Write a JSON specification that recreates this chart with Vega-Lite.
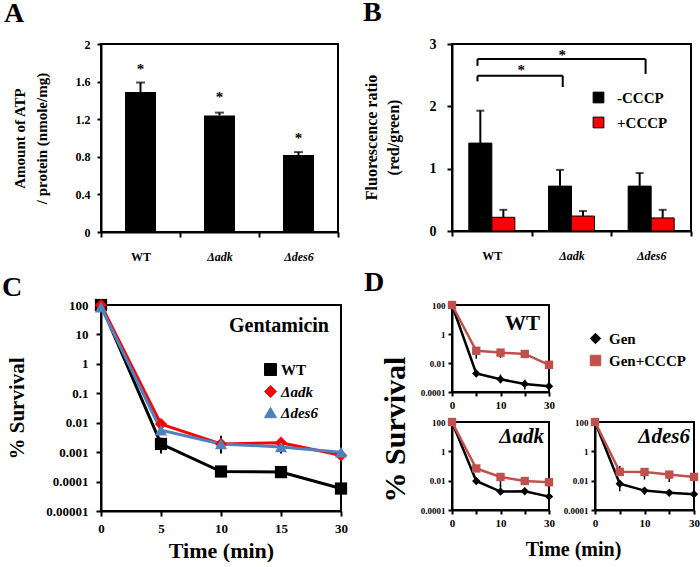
{
  "$schema": "https://vega.github.io/schema/vega-lite/v6.json",
  "padding": {"left": 1, "top": -2, "right": 0, "bottom": 0},
  "background": "white",
  "spacing": 12,
  "resolve": {"scale": {"color": "independent", "shape": "independent"}},
  "datasets": {
    "atp": [
      {"strain": "WT", "v": 1.49, "hi": 1.59, "star": 1.68},
      {"strain": "Δadk", "v": 1.24, "hi": 1.27, "star": 1.38},
      {"strain": "Δdes6", "v": 0.82, "hi": 0.85, "star": 0.95}
    ],
    "fl": [
      {"strain": "WT", "cond": "-CCCP", "v": 1.41, "hi": 1.93},
      {"strain": "WT", "cond": "+CCCP", "v": 0.22, "hi": 0.34},
      {"strain": "Δadk", "cond": "-CCCP", "v": 0.72, "hi": 0.98},
      {"strain": "Δadk", "cond": "+CCCP", "v": 0.24, "hi": 0.32},
      {"strain": "Δdes6", "cond": "-CCCP", "v": 0.72, "hi": 0.93},
      {"strain": "Δdes6", "cond": "+CCCP", "v": 0.21, "hi": 0.34}
    ],
    "brackets": [
      {"x": 0.32, "x2": 2.43, "y": 2.76, "y2": 2.76},
      {"x": 0.32, "x2": 0.32, "y": 2.76, "y2": 2.65},
      {"x": 2.43, "x2": 2.43, "y": 2.76, "y2": 2.52},
      {"x": 0.32, "x2": 1.39, "y": 2.49, "y2": 2.49},
      {"x": 0.32, "x2": 0.32, "y": 2.49, "y2": 2.4},
      {"x": 1.39, "x2": 1.39, "y": 2.49, "y2": 2.31}
    ],
    "bstars": [
      {"x": 1.385, "y": 2.74},
      {"x": 0.87, "y": 2.5}
    ],
    "gen": [
      {"strain": "WT", "t": 0, "v": 100, "lo": 100, "hi": 100},
      {"strain": "WT", "t": 5, "v": 0.0019, "lo": 0.0009, "hi": 0.0031},
      {"strain": "WT", "t": 10, "v": 0.00022, "lo": 0.00022, "hi": 0.00022},
      {"strain": "WT", "t": 15, "v": 0.00021, "lo": 0.00021, "hi": 0.00021},
      {"strain": "WT", "t": 30, "v": 0.000058, "lo": 0.000058, "hi": 0.00018},
      {"strain": "Δadk", "t": 0, "v": 100, "lo": 100, "hi": 100},
      {"strain": "Δadk", "t": 5, "v": 0.009, "lo": 0.009, "hi": 0.009},
      {"strain": "Δadk", "t": 10, "v": 0.0019, "lo": 0.0009, "hi": 0.0036},
      {"strain": "Δadk", "t": 15, "v": 0.0021, "lo": 0.0009, "hi": 0.0026},
      {"strain": "Δadk", "t": 30, "v": 0.00078, "lo": 0.00078, "hi": 0.0019},
      {"strain": "Δdes6", "t": 0, "v": 85, "lo": 85, "hi": 85},
      {"strain": "Δdes6", "t": 5, "v": 0.0056, "lo": 0.0056, "hi": 0.0056},
      {"strain": "Δdes6", "t": 10, "v": 0.0019, "lo": 0.0019, "hi": 0.0019},
      {"strain": "Δdes6", "t": 15, "v": 0.0015, "lo": 0.0015, "hi": 0.0015},
      {"strain": "Δdes6", "t": 30, "v": 0.001, "lo": 0.001, "hi": 0.0016}
    ],
    "clab": [{"label": "Gentamicin", "t": 30, "v": 12}],
    "d": [
      {"strain": "WT", "cond": "Gen", "t": 0, "v": 100, "lo": 100, "hi": 100},
      {"strain": "WT", "cond": "Gen", "t": 5, "v": 0.0019, "lo": 0.0012, "hi": 0.0032},
      {"strain": "WT", "cond": "Gen", "t": 10, "v": 0.00075, "lo": 0.0004, "hi": 0.0016},
      {"strain": "WT", "cond": "Gen", "t": 15, "v": 0.00036, "lo": 0.00015, "hi": 0.0007},
      {"strain": "WT", "cond": "Gen", "t": 30, "v": 0.00025, "lo": 0.0001, "hi": 0.0006},
      {"strain": "WT", "cond": "Gen+CCCP", "t": 0, "v": 100, "lo": 100, "hi": 100},
      {"strain": "WT", "cond": "Gen+CCCP", "t": 5, "v": 0.07, "lo": 0.02, "hi": 0.07},
      {"strain": "WT", "cond": "Gen+CCCP", "t": 10, "v": 0.052, "lo": 0.022, "hi": 0.09},
      {"strain": "WT", "cond": "Gen+CCCP", "t": 15, "v": 0.042, "lo": 0.042, "hi": 0.08},
      {"strain": "WT", "cond": "Gen+CCCP", "t": 30, "v": 0.0075, "lo": 0.0075, "hi": 0.0075},
      {"strain": "Δadk", "cond": "Gen", "t": 0, "v": 100, "lo": 100, "hi": 100},
      {"strain": "Δadk", "cond": "Gen", "t": 5, "v": 0.0095, "lo": 0.006, "hi": 0.014},
      {"strain": "Δadk", "cond": "Gen", "t": 10, "v": 0.0018, "lo": 0.0018, "hi": 0.005},
      {"strain": "Δadk", "cond": "Gen", "t": 15, "v": 0.0019, "lo": 0.0019, "hi": 0.0019},
      {"strain": "Δadk", "cond": "Gen", "t": 30, "v": 0.00082, "lo": 0.00082, "hi": 0.002},
      {"strain": "Δadk", "cond": "Gen+CCCP", "t": 0, "v": 100, "lo": 100, "hi": 100},
      {"strain": "Δadk", "cond": "Gen+CCCP", "t": 5, "v": 0.068, "lo": 0.068, "hi": 0.11},
      {"strain": "Δadk", "cond": "Gen+CCCP", "t": 10, "v": 0.018, "lo": 0.004, "hi": 0.03},
      {"strain": "Δadk", "cond": "Gen+CCCP", "t": 15, "v": 0.0095, "lo": 0.0095, "hi": 0.0095},
      {"strain": "Δadk", "cond": "Gen+CCCP", "t": 30, "v": 0.0078, "lo": 0.003, "hi": 0.0078},
      {"strain": "Δdes6", "cond": "Gen", "t": 0, "v": 100, "lo": 100, "hi": 100},
      {"strain": "Δdes6", "cond": "Gen", "t": 5, "v": 0.0062, "lo": 0.0019, "hi": 0.01},
      {"strain": "Δdes6", "cond": "Gen", "t": 10, "v": 0.0021, "lo": 0.0011, "hi": 0.003},
      {"strain": "Δdes6", "cond": "Gen", "t": 15, "v": 0.0015, "lo": 0.0015, "hi": 0.0015},
      {"strain": "Δdes6", "cond": "Gen", "t": 30, "v": 0.0012, "lo": 0.0001, "hi": 0.0012},
      {"strain": "Δdes6", "cond": "Gen+CCCP", "t": 0, "v": 100, "lo": 100, "hi": 100},
      {"strain": "Δdes6", "cond": "Gen+CCCP", "t": 5, "v": 0.04, "lo": 0.04, "hi": 0.1},
      {"strain": "Δdes6", "cond": "Gen+CCCP", "t": 10, "v": 0.039, "lo": 0.012, "hi": 0.039},
      {"strain": "Δdes6", "cond": "Gen+CCCP", "t": 15, "v": 0.026, "lo": 0.008, "hi": 0.026},
      {"strain": "Δdes6", "cond": "Gen+CCCP", "t": 30, "v": 0.018, "lo": 0.006, "hi": 0.018}
    ],
    "dlab": [
      {"strain": "WT", "label": "WT", "t": 30, "v": 1.9},
      {"strain": "Δadk", "label": "Δadk", "t": 30, "v": 3.5},
      {"strain": "Δdes6", "label": "Δdes6", "t": 30, "v": 3.5}
    ]
  },
  "hconcat": [
    {
      "vconcat": [
        {
          "width": 237, "height": 188,
          "title": {"text": "A", "dx": -97, "offset": 10},
          "data": {"name": "atp"},
          "encoding": {
            "x": {"field": "strain", "type": "nominal", "sort": null, "scale": {"paddingInner": 0, "paddingOuter": 0},
              "axis": {"title": null, "labelAngle": 0, "tickBand": "extent", "tickSize": 5, "labelFontSize": 12, "labelPadding": 14,
                "labelFontStyle": {"condition": {"test": "datum.value == 'WT'", "value": "normal"}, "value": "italic"}}}
          },
          "layer": [
            {"mark": {"type": "bar", "width": 31, "color": "black"},
              "encoding": {"y": {"field": "v", "type": "quantitative", "scale": {"domain": [0, 2]},
                "axis": {"title": ["Amount of ATP", "/ protein (nmole/mg)"], "values": [0, 0.4, 0.8, 1.2, 1.6, 2], "labelExpr": "format(datum.value, '~g')",
                  "labelOverlap": false, "tickSize": 4, "labelPadding": 7, "labelFontSize": 12, "titleFontSize": 15, "titleLineHeight": 22, "titleX": -74, "titleY": 94}}}},
            {"mark": {"type": "rule", "color": "black", "strokeWidth": 2},
              "encoding": {"y": {"field": "v", "type": "quantitative",
                "axis": {"title": ["Amount of ATP", "/ protein (nmole/mg)"], "values": [0, 0.4, 0.8, 1.2, 1.6, 2], "labelExpr": "format(datum.value, '~g')",
                  "labelOverlap": false, "tickSize": 4, "labelPadding": 7, "labelFontSize": 12, "titleFontSize": 15, "titleLineHeight": 22, "titleX": -74, "titleY": 94}},
                "y2": {"field": "hi"}}},
            {"mark": {"type": "tick", "color": "black", "thickness": 2, "size": 9},
              "encoding": {"y": {"field": "hi", "type": "quantitative",
                "axis": {"title": ["Amount of ATP", "/ protein (nmole/mg)"], "values": [0, 0.4, 0.8, 1.2, 1.6, 2], "labelExpr": "format(datum.value, '~g')",
                  "labelOverlap": false, "tickSize": 4, "labelPadding": 7, "labelFontSize": 12, "titleFontSize": 15, "titleLineHeight": 22, "titleX": -74, "titleY": 94}}}},
            {"mark": {"type": "text", "text": "*", "fontSize": 15, "baseline": "alphabetic"},
              "encoding": {"y": {"field": "star", "type": "quantitative",
                "axis": {"title": ["Amount of ATP", "/ protein (nmole/mg)"], "values": [0, 0.4, 0.8, 1.2, 1.6, 2], "labelExpr": "format(datum.value, '~g')",
                  "labelOverlap": false, "tickSize": 4, "labelPadding": 7, "labelFontSize": 12, "titleFontSize": 15, "titleLineHeight": 22, "titleX": -74, "titleY": 94}}}}
          ]
        },
        {
          "width": 240, "height": 206,
          "title": {"text": "C", "dx": -99, "offset": -3},
          "encoding": {
            "x": {"field": "t", "type": "ordinal", "scale": {"type": "point", "padding": 0},
              "axis": {"title": "Time (min)", "labelAngle": 0, "tickSize": 5, "labelFontSize": 13, "labelPadding": 6,
                "titleFontSize": 22, "titleY": 46, "titleBaseline": "alphabetic"}},
            "y": {"field": "v", "type": "quantitative", "title": "% Survival", "scale": {"type": "log", "domain": [0.00001, 100]},
              "axis": {"values": [0.00001, 0.0001, 0.001, 0.01, 0.1, 1, 10, 100], "tickSize": 5, "labelPadding": 8, "labelFontSize": 13,
                "labelOverlap": false,
                "labelExpr": "datum.value >= 1 ? format(datum.value, 'd') : format(datum.value, '.' + round(-log(datum.value) / LN10) + 'f')",
                "titleFontSize": 21, "titleX": -74, "titleY": 103}}
          },
          "layer": [
            {"data": {"name": "gen"}, "transform": [{"filter": "datum.lo < datum.hi"}],
              "mark": {"type": "rule", "color": "black", "strokeWidth": 2},
              "encoding": {"y": {"field": "lo", "type": "quantitative", "title": "% Survival"}, "y2": {"field": "hi"}}},
            {"data": {"name": "gen"},
              "mark": {"type": "line", "strokeWidth": 3},
              "encoding": {"color": {"field": "strain", "type": "nominal", "scale": {"domain": ["WT", "Δadk", "Δdes6"], "range": ["#000000", "#FF0000", "#4F81BD"]},
                "legend": {"title": null, "orient": "none", "legendX": 162, "legendY": 57, "symbolSize": 144, "labelFontSize": 15, "labelOffset": 3, "rowPadding": 5,
                  "encode": {
                    "labels": {"update": {"fontStyle": {"signal": "datum.value == 'WT' ? 'normal' : 'italic'"}}},
                    "symbols": {"update": {
                      "stroke": {"signal": "datum.value == 'WT' ? '#000000' : datum.value == 'Δadk' ? '#FF0000' : '#4F81BD'"},
                      "fill": {"signal": "datum.value == 'WT' ? '#000000' : datum.value == 'Δadk' ? '#FF0000' : '#4F81BD'"},
                      "opacity": {"value": 1},
                      "strokeWidth": {"value": 1}
                    }}
                  }}}}},
            {"data": {"name": "gen"},
              "mark": {"type": "point", "filled": true, "size": 150, "opacity": 1},
              "encoding": {
                "color": {"field": "strain", "type": "nominal", "scale": {"domain": ["WT", "Δadk", "Δdes6"], "range": ["#000000", "#FF0000", "#4F81BD"]},
                  "legend": {"title": null, "orient": "none", "legendX": 162, "legendY": 57, "symbolSize": 144, "labelFontSize": 15, "labelOffset": 3, "rowPadding": 5,
                    "encode": {
                      "labels": {"update": {"fontStyle": {"signal": "datum.value == 'WT' ? 'normal' : 'italic'"}}},
                      "symbols": {"update": {
                        "stroke": {"signal": "datum.value == 'WT' ? '#000000' : datum.value == 'Δadk' ? '#FF0000' : '#4F81BD'"},
                        "fill": {"signal": "datum.value == 'WT' ? '#000000' : datum.value == 'Δadk' ? '#FF0000' : '#4F81BD'"},
                        "opacity": {"value": 1},
                        "strokeWidth": {"value": 1}
                      }}
                    }}},
                "shape": {"field": "strain", "type": "nominal", "scale": {"domain": ["WT", "Δadk", "Δdes6"], "range": ["square", "diamond", "triangle-up"]}}
              }},
            {"data": {"name": "clab"},
              "mark": {"type": "text", "align": "right", "dx": -12, "fontSize": 20, "baseline": "alphabetic"},
              "encoding": {"text": {"field": "label"}}}
          ]
        }
      ],
      "bounds": "flush",
      "spacing": 73,
      "resolve": {"scale": {"color": "independent", "shape": "independent"}}
    },
    {
      "vconcat": [
        {
          "width": 239, "height": 187,
          "title": {"text": "B", "dx": -89, "offset": 10},
          "resolve": {"scale": {"x": "independent"}},
          "layer": [
            {
              "data": {"name": "fl"},
              "encoding": {
                "x": {"field": "strain", "type": "nominal", "sort": null, "scale": {"paddingInner": 0, "paddingOuter": 0},
                  "axis": {"title": null, "labelAngle": 0, "tickBand": "extent", "tickSize": 5, "labelFontSize": 12, "labelPadding": 14,
                    "labelFontStyle": {"condition": {"test": "datum.value == 'WT'", "value": "normal"}, "value": "italic"}}},
                "xOffset": {"field": "cond", "type": "nominal", "sort": ["-CCCP", "+CCCP"], "scale": {"paddingInner": 0, "paddingOuter": 0.73}}
              },
              "layer": [
                {"mark": {"type": "bar", "stroke": "black", "strokeWidth": 1},
                  "encoding": {
                    "y": {"field": "v", "type": "quantitative", "scale": {"domain": [0, 3]},
                      "axis": {"title": ["Fluorescence ratio", "(red/green)"], "values": [0, 1, 2, 3], "format": "d", "labelOverlap": false, "tickSize": 5, "labelPadding": 11,
                        "labelFontSize": 14, "titleFontSize": 16, "titleLineHeight": 22, "titleX": -73, "titleY": 93}},
                    "color": {"field": "cond", "type": "nominal", "sort": ["-CCCP", "+CCCP"],
                      "scale": {"domain": ["-CCCP", "+CCCP"], "range": ["#000000", "#FF0000"]},
                      "legend": {"title": null, "orient": "none", "legendX": 139, "legendY": 46, "symbolType": "square", "symbolSize": 115,
                        "symbolStrokeColor": "black", "symbolStrokeWidth": 1, "symbolOpacity": 1, "labelFontSize": 15, "labelOffset": 11, "rowPadding": 9}}
                  }},
                {"mark": {"type": "rule", "color": "black", "strokeWidth": 2},
                  "encoding": {"y": {"field": "v", "type": "quantitative"}, "y2": {"field": "hi"}}},
                {"mark": {"type": "tick", "color": "black", "thickness": 2, "size": 8},
                  "encoding": {"y": {"field": "hi", "type": "quantitative"}}}
              ]
            },
            {
              "data": {"name": "brackets"},
              "mark": {"type": "rule", "color": "black", "strokeWidth": 2},
              "encoding": {
                "x": {"field": "x", "type": "quantitative", "scale": {"domain": [0, 3], "nice": false}, "axis": null},
                "x2": {"field": "x2"},
                "y": {"field": "y", "type": "quantitative"},
                "y2": {"field": "y2"}
              }
            },
            {
              "data": {"name": "bstars"},
              "mark": {"type": "text", "text": "*", "fontSize": 15, "baseline": "alphabetic"},
              "encoding": {
                "x": {"field": "x", "type": "quantitative", "scale": {"domain": [0, 3], "nice": false}, "axis": null},
                "y": {"field": "y", "type": "quantitative"}
              }
            }
          ]
        },
        {
          "concat": [
            {
              "width": 97, "height": 87,
              "title": {"text": "D", "dx": -88, "offset": 3},
              "encoding": {
                "x": {"field": "t", "type": "ordinal", "scale": {"type": "point", "padding": 0},
                  "axis": {"title": null, "labelAngle": 0, "tickSize": 4, "labelFontSize": 11, "labelPadding": 3,
                    "labelExpr": "datum.value == 5 || datum.value == 15 ? '' : datum.label"}},
                "y": {"field": "v", "type": "quantitative", "title": null, "scale": {"type": "log", "domain": [0.0001, 100]},
                  "axis": {"values": [0.0001, 0.01, 1, 100], "tickSize": 4, "labelPadding": 3, "labelFontSize": 9, "labelOverlap": false,
                    "labelExpr": "datum.value >= 1 ? format(datum.value, 'd') : format(datum.value, '.' + round(-log(datum.value) / LN10) + 'f')"}}
              },
              "layer": [
                {"data": {"name": "d"}, "transform": [{"filter": "datum.strain == 'WT' && datum.lo < datum.hi"}],
                  "mark": {"type": "rule", "color": "black", "strokeWidth": 1.5},
                  "encoding": {"y": {"field": "lo", "type": "quantitative", "title": null}, "y2": {"field": "hi"}}},
                {"data": {"name": "d"}, "transform": [{"filter": "datum.strain == 'WT'"}],
                  "mark": {"type": "line", "strokeWidth": 2.5},
                  "encoding": {"color": {"field": "cond", "type": "nominal", "scale": {"domain": ["Gen", "Gen+CCCP"], "range": ["#000000", "#C0504D"]},
                    "legend": {"title": null, "orient": "none", "legendX": 136, "legendY": 26, "symbolSize": 110, "labelFontSize": 15, "labelOffset": 6, "rowPadding": 6,
                      "encode": {"symbols": {"update": {
                        "stroke": {"signal": "datum.value == 'Gen' ? '#000000' : '#C0504D'"},
                        "fill": {"signal": "datum.value == 'Gen' ? '#000000' : '#C0504D'"},
                        "opacity": {"value": 1},
                        "strokeWidth": {"value": 1}
                      }}}}}}},
                {"data": {"name": "d"}, "transform": [{"filter": "datum.strain == 'WT'"}],
                  "mark": {"type": "point", "filled": true, "size": 70, "opacity": 1},
                  "encoding": {
                    "color": {"field": "cond", "type": "nominal", "scale": {"domain": ["Gen", "Gen+CCCP"], "range": ["#000000", "#C0504D"]},
                      "legend": {"title": null, "orient": "none", "legendX": 136, "legendY": 26, "symbolSize": 110, "labelFontSize": 15, "labelOffset": 6, "rowPadding": 6,
                        "encode": {"symbols": {"update": {
                          "stroke": {"signal": "datum.value == 'Gen' ? '#000000' : '#C0504D'"},
                          "fill": {"signal": "datum.value == 'Gen' ? '#000000' : '#C0504D'"},
                          "opacity": {"value": 1},
                          "strokeWidth": {"value": 1}
                        }}}}},
                    "shape": {"field": "cond", "type": "nominal", "scale": {"domain": ["Gen", "Gen+CCCP"], "range": ["diamond", "square"]}}
                  }},
                {"data": {"name": "dlab"}, "transform": [{"filter": "datum.strain == 'WT'"}],
                  "mark": {"type": "text", "align": "right", "dx": -9, "fontSize": 21, "baseline": "alphabetic"},
                  "encoding": {"text": {"field": "label"}}}
              ]
            },
            {"width": 1, "height": 1, "data": {"values": []}, "mark": {"type": "point", "opacity": 0}, "view": {"stroke": null}},
            {
              "width": 97, "height": 88,
              "encoding": {
                "x": {"field": "t", "type": "ordinal", "scale": {"type": "point", "padding": 0},
                  "axis": {"title": "Time (min)", "labelAngle": 0, "tickSize": 4, "labelFontSize": 11, "labelPadding": 3,
                    "labelExpr": "datum.value == 5 || datum.value == 15 ? '' : datum.label",
                    "titleFontSize": 20, "titleX": 121, "titleY": 45, "titleBaseline": "alphabetic"}},
                "y": {"field": "v", "type": "quantitative", "title": "% Survival", "scale": {"type": "log", "domain": [0.0001, 100]},
                  "axis": {"values": [0.0001, 0.01, 1, 100], "tickSize": 4, "labelPadding": 3, "labelFontSize": 9, "labelOverlap": false,
                    "labelExpr": "datum.value >= 1 ? format(datum.value, 'd') : format(datum.value, '.' + round(-log(datum.value) / LN10) + 'f')",
                    "titleFontSize": 30, "titleX": -42, "titleY": 7}}
              },
              "layer": [
                {"data": {"name": "d"}, "transform": [{"filter": "datum.strain == 'Δadk' && datum.lo < datum.hi"}],
                  "mark": {"type": "rule", "color": "black", "strokeWidth": 1.5},
                  "encoding": {"y": {"field": "lo", "type": "quantitative", "title": "% Survival"}, "y2": {"field": "hi"}}},
                {"data": {"name": "d"}, "transform": [{"filter": "datum.strain == 'Δadk'"}],
                  "mark": {"type": "line", "strokeWidth": 2.5},
                  "encoding": {"color": {"field": "cond", "type": "nominal", "scale": {"domain": ["Gen", "Gen+CCCP"], "range": ["#000000", "#C0504D"]}, "legend": null}}},
                {"data": {"name": "d"}, "transform": [{"filter": "datum.strain == 'Δadk'"}],
                  "mark": {"type": "point", "filled": true, "size": 70, "opacity": 1},
                  "encoding": {
                    "color": {"field": "cond", "type": "nominal", "scale": {"domain": ["Gen", "Gen+CCCP"], "range": ["#000000", "#C0504D"]}, "legend": null},
                    "shape": {"field": "cond", "type": "nominal", "scale": {"domain": ["Gen", "Gen+CCCP"], "range": ["diamond", "square"]}, "legend": null}
                  }},
                {"data": {"name": "dlab"}, "transform": [{"filter": "datum.strain == 'Δadk'"}],
                  "mark": {"type": "text", "align": "right", "dx": -5, "fontSize": 21, "fontStyle": "italic", "baseline": "alphabetic"},
                  "encoding": {"text": {"field": "label"}}}
              ]
            },
            {
              "width": 99, "height": 88,
              "encoding": {
                "x": {"field": "t", "type": "ordinal", "scale": {"type": "point", "padding": 0},
                  "axis": {"title": null, "labelAngle": 0, "tickSize": 4, "labelFontSize": 11, "labelPadding": 3,
                    "labelExpr": "datum.value == 5 || datum.value == 15 ? '' : datum.label"}},
                "y": {"field": "v", "type": "quantitative", "title": null, "scale": {"type": "log", "domain": [0.0001, 100]},
                  "axis": {"values": [0.0001, 0.01, 1, 100], "tickSize": 4, "labelPadding": 3, "labelFontSize": 9, "labelOverlap": false,
                    "labelExpr": "datum.value >= 1 ? format(datum.value, 'd') : format(datum.value, '.' + round(-log(datum.value) / LN10) + 'f')"}}
              },
              "layer": [
                {"data": {"name": "d"}, "transform": [{"filter": "datum.strain == 'Δdes6' && datum.lo < datum.hi"}],
                  "mark": {"type": "rule", "color": "black", "strokeWidth": 1.5},
                  "encoding": {"y": {"field": "lo", "type": "quantitative", "title": null}, "y2": {"field": "hi"}}},
                {"data": {"name": "d"}, "transform": [{"filter": "datum.strain == 'Δdes6'"}],
                  "mark": {"type": "line", "strokeWidth": 2.5},
                  "encoding": {"color": {"field": "cond", "type": "nominal", "scale": {"domain": ["Gen", "Gen+CCCP"], "range": ["#000000", "#C0504D"]}, "legend": null}}},
                {"data": {"name": "d"}, "transform": [{"filter": "datum.strain == 'Δdes6'"}],
                  "mark": {"type": "point", "filled": true, "size": 70, "opacity": 1},
                  "encoding": {
                    "color": {"field": "cond", "type": "nominal", "scale": {"domain": ["Gen", "Gen+CCCP"], "range": ["#000000", "#C0504D"]}, "legend": null},
                    "shape": {"field": "cond", "type": "nominal", "scale": {"domain": ["Gen", "Gen+CCCP"], "range": ["diamond", "square"]}, "legend": null}
                  }},
                {"data": {"name": "dlab"}, "transform": [{"filter": "datum.strain == 'Δdes6'"}],
                  "mark": {"type": "text", "align": "right", "dx": -4, "fontSize": 21, "fontStyle": "italic", "baseline": "alphabetic"},
                  "encoding": {"text": {"field": "label"}}}
              ]
            }
          ],
          "columns": 2,
          "bounds": "flush",
          "spacing": {"row": 30, "column": 46},
          "resolve": {"scale": {"color": "independent", "shape": "independent"}}
        }
      ],
      "spacing": 6,
      "resolve": {"scale": {"color": "independent", "shape": "independent"}}
    }
  ],
  "config": {
    "font": "Liberation Serif",
    "view": {"stroke": "black", "strokeWidth": 2},
    "axis": {"labelFont": "Liberation Serif", "labelFontWeight": "bold", "labelColor": "black", "titleFont": "Liberation Serif",
      "titleFontWeight": "bold", "titleColor": "black", "domainColor": "black", "domainWidth": 2, "tickColor": "black", "tickWidth": 2,
      "grid": false, "labelOverlap": false},
    "legend": {"labelFont": "Liberation Serif", "labelFontWeight": "bold", "labelColor": "black", "padding": 0},
    "title": {"font": "Liberation Serif", "fontWeight": "bold", "fontSize": 28, "anchor": "start", "frame": "group", "color": "black", "baseline": "alphabetic"},
    "text": {"font": "Liberation Serif", "fontWeight": "bold", "color": "black"}
  }
}
